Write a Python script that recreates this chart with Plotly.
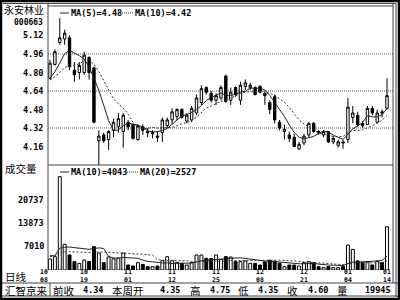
import plotly.graph_objects as go
import pandas as pd

# ---------------- data ----------------
dates = [
    "2010-10-08", "2010-10-11", "2010-10-12", "2010-10-13", "2010-10-14", "2010-10-15",
    "2010-10-18", "2010-10-19", "2010-10-20", "2010-10-21", "2010-10-22",
    "2010-10-25", "2010-10-26", "2010-10-27", "2010-10-28", "2010-10-29",
    "2010-11-01", "2010-11-02", "2010-11-03", "2010-11-04", "2010-11-05",
    "2010-11-08", "2010-11-09", "2010-11-10", "2010-11-11", "2010-11-12",
    "2010-11-15", "2010-11-16", "2010-11-17", "2010-11-18", "2010-11-19",
    "2010-11-22", "2010-11-23", "2010-11-24", "2010-11-25", "2010-11-26",
    "2010-11-29", "2010-11-30",
    "2010-12-01", "2010-12-02", "2010-12-03",
    "2010-12-06", "2010-12-07", "2010-12-08", "2010-12-09", "2010-12-10",
    "2010-12-13", "2010-12-14", "2010-12-15", "2010-12-16", "2010-12-17",
    "2010-12-20", "2010-12-21", "2010-12-22", "2010-12-23", "2010-12-24",
    "2010-12-27", "2010-12-28", "2010-12-29", "2010-12-30", "2010-12-31",
    "2011-01-04", "2011-01-05", "2011-01-06", "2011-01-07",
    "2011-01-10", "2011-01-11", "2011-01-12", "2011-01-13", "2011-01-14",
]

open_ = [4.75, 4.87, 5.06, 5.09, 5.10, 4.82, 4.80, 4.80, 4.93, 4.84,
         4.21, 4.26, 4.22, 4.30, 4.33, 4.29, 4.37, 4.35, 4.22, 4.33,
         4.29, 4.27, 4.25, 4.28, 4.34, 4.39, 4.42, 4.48, 4.38, 4.39,
         4.45, 4.54, 4.67, 4.62, 4.56, 4.58, 4.77, 4.56, 4.67, 4.56,
         4.68, 4.67, 4.67, 4.68, 4.62, 4.54, 4.59, 4.37, 4.29, 4.26,
         4.24, 4.14, 4.19, 4.26, 4.36, 4.29, 4.26, 4.29, 4.20, 4.17,
         4.20, 4.22, 4.41, 4.43, 4.36, 4.35, 4.49, 4.37, 4.46, 4.49]
high = [4.91, 5.00, 5.27, 5.17, 5.12, 4.89, 4.89, 4.98, 4.94, 4.85,
        4.30, 4.28, 4.30, 4.40, 4.45, 4.45, 4.39, 4.36, 4.35, 4.35,
        4.32, 4.30, 4.29, 4.41, 4.41, 4.49, 4.49, 4.49, 4.45, 4.51,
        4.61, 4.69, 4.68, 4.64, 4.62, 4.69, 4.78, 4.67, 4.68, 4.72,
        4.74, 4.71, 4.68, 4.69, 4.63, 4.56, 4.61, 4.39, 4.35, 4.29,
        4.27, 4.20, 4.27, 4.37, 4.37, 4.30, 4.30, 4.29, 4.25, 4.22,
        4.22, 4.58, 4.51, 4.46, 4.38, 4.51, 4.51, 4.48, 4.48, 4.75]
low = [4.74, 4.86, 5.04, 5.04, 4.82, 4.72, 4.74, 4.78, 4.74, 4.36,
       4.00, 4.19, 4.13, 4.24, 4.28, 4.15, 4.30, 4.22, 4.21, 4.26,
       4.24, 4.23, 4.20, 4.20, 4.32, 4.35, 4.39, 4.40, 4.36, 4.37,
       4.43, 4.52, 4.61, 4.54, 4.52, 4.56, 4.54, 4.52, 4.59, 4.52,
       4.65, 4.65, 4.60, 4.62, 4.52, 4.44, 4.36, 4.30, 4.22, 4.20,
       4.16, 4.13, 4.17, 4.24, 4.28, 4.26, 4.24, 4.19, 4.18, 4.15,
       4.14, 4.19, 4.36, 4.33, 4.32, 4.35, 4.43, 4.36, 4.41, 4.48]
close = [4.88, 4.98, 5.10, 5.14, 4.85, 4.78, 4.86, 4.95, 4.80, 4.37,
         4.25, 4.21, 4.29, 4.37, 4.40, 4.43, 4.33, 4.23, 4.34, 4.30,
         4.28, 4.28, 4.24, 4.39, 4.39, 4.46, 4.48, 4.41, 4.43, 4.49,
         4.58, 4.66, 4.63, 4.56, 4.60, 4.67, 4.55, 4.63, 4.61, 4.69,
         4.71, 4.69, 4.61, 4.63, 4.60, 4.48, 4.39, 4.32, 4.31, 4.23,
         4.16, 4.18, 4.25, 4.36, 4.29, 4.28, 4.29, 4.20, 4.23, 4.20,
         4.19, 4.50, 4.45, 4.35, 4.34, 4.49, 4.45, 4.45, 4.45, 4.60]
volume = [3260, 3950, 27640, 7610, 4440, 2470, 1970, 2960, 2500, 6910,
          5030, 2170, 3850, 3300, 3550, 5030, 1480, 1180, 2170, 1680,
          990, 990, 1180, 2760, 3950, 2760, 2270, 1970, 1480, 2170,
          4440, 4440, 3460, 3400, 4440, 3160, 3950, 3850, 2470, 2470,
          2700, 1970, 1970, 1480, 2400, 2900, 2600, 2000, 990, 1480,
          1480, 1180, 2170, 2470, 2170, 990, 690, 990, 690, 690,
          1000, 7400, 6100, 2700, 2170, 2500, 1480, 2470, 2170, 12800]

# sessions before the window (needed for the moving averages at the left edge)
pre_close = [4.70, 4.73, 4.71, 4.74, 4.72, 4.70, 4.72, 4.73, 4.72]
pre_volume = [3500, 3800, 4200, 3600, 3900, 4100, 3700, 3400, 3600, 3800,
              4500, 5200, 4800, 3900, 4200, 4600, 4100, 3800, 4400]

# values printed in the legends of the reference
price_legend = [("MA(5)", "4.48"), ("MA(10)", "4.42")]
vol_legend = [("MA(10)", "4043"), ("MA(20)", "2527")]

price_ticks = [5.12, 4.96, 4.80, 4.64, 4.48, 4.32, 4.16]
price_grid = [4.96, 4.64, 4.32]
vol_ticks = [20737, 13873, 7010]
date_labels = ["2010-10-08", "2010-10-19", "2010-11-01", "2010-11-12", "2010-11-25",
               "2010-12-08", "2010-12-21", "2011-01-04", "2011-01-14"]

stock_name = "永安林业"
stock_code = "000663"
status_items = [("前收", "4.34"), ("本周开", "4.35"), ("高", "4.75"),
                ("低", "4.35"), ("收", "4.60"), ("量", "19945")]

# ---------------- derived ----------------
cs = pd.Series(pre_close + close)
ma5 = cs.rolling(5).mean().iloc[len(pre_close):].tolist()
ma10 = cs.rolling(10).mean().iloc[len(pre_close):].tolist()
vs = pd.Series(pre_volume + volume)
vma10 = vs.rolling(10).mean().iloc[len(pre_volume):].tolist()
vma20 = vs.rolling(20).mean().iloc[len(pre_volume):].tolist()

W, H = 400, 300
def px(x):
    return x / W
def py(y):
    return 1 - y / H

MONO = "DejaVu Sans Mono"
CJK = "Noto Sans CJK SC"

fig = go.Figure()

fig.add_trace(go.Candlestick(
    x=dates, open=open_, high=high, low=low, close=close,
    increasing=dict(line=dict(color="black", width=1), fillcolor="white"),
    decreasing=dict(line=dict(color="black", width=1), fillcolor="black"),
    whiskerwidth=0, xaxis="x", yaxis="y", showlegend=False,
))
fig.add_trace(go.Scatter(x=dates, y=ma5, mode="lines",
                         line=dict(color="#222", width=1), xaxis="x", yaxis="y",
                         showlegend=False))
fig.add_trace(go.Scatter(x=dates, y=ma10, mode="lines",
                         line=dict(color="#333", width=1, dash="2px,2px"),
                         xaxis="x", yaxis="y", showlegend=False))

vcolors = ["white" if c >= o else "black" for o, c in zip(open_, close)]
fig.add_trace(go.Bar(x=dates, y=volume, marker=dict(color=vcolors, line=dict(color="black", width=1)),
                     width=0.6, xaxis="x", yaxis="y2", showlegend=False))
fig.add_trace(go.Scatter(x=dates, y=vma10, mode="lines",
                         line=dict(color="#222", width=1), xaxis="x", yaxis="y2",
                         showlegend=False))
fig.add_trace(go.Scatter(x=dates, y=vma20, mode="lines",
                         line=dict(color="#333", width=1, dash="2px,2px"),
                         xaxis="x", yaxis="y2", showlegend=False))

# axis geometry (pixel layout of the reference)
x_left, x_right = 48, 393
price_top, price_bot = 7, 165
vol_top, vol_bot = 165, 270
idx0_px, step_px = 50, 4.884
xr = [(x_left - idx0_px) / step_px, (x_right - idx0_px) / step_px]
pp = 115.625  # px per price unit
p_bot = 4.96 - (price_bot - 54) / pp
p_top = 4.96 + (54 - price_top) / pp
vscale = 70 / 20737.0
v_top = (vol_bot - vol_top) / vscale

fig.update_layout(
    width=W, height=H, margin=dict(l=0, r=0, t=0, b=0),
    paper_bgcolor="white", plot_bgcolor="white",
    xaxis=dict(domain=[px(x_left), px(x_right)], type="category", range=xr,
               showticklabels=False, showgrid=False, zeroline=False,
               rangeslider=dict(visible=False), anchor="y2", fixedrange=True),
    yaxis=dict(domain=[py(price_bot), py(price_top)], range=[p_bot, p_top],
               showticklabels=False, showgrid=False, zeroline=False, anchor="x"),
    yaxis2=dict(domain=[py(vol_bot), py(vol_top)], range=[0, v_top],
                showticklabels=False, showgrid=False, zeroline=False, anchor="x"),
    bargap=0.4,
)

shapes = []
def line(x0, y0, x1, y1, color="black", width=1, dash=None):
    d = dict(type="line", xref="paper", yref="paper",
             x0=px(x0), y0=py(y0), x1=px(x1), y1=py(y1),
             line=dict(color=color, width=width))
    if dash:
        d["line"]["dash"] = dash
    shapes.append(d)

# price grid lines (dotted)
for g in price_grid:
    shapes.append(dict(type="line", xref="paper", yref="y", x0=px(x_left), x1=px(x_right),
                       y0=g, y1=g, line=dict(color="#555", width=1, dash="1px,1px"), layer="below"))

# frames
line(48, 4, 48, 270, "#444")
line(x_right, 4, x_right, 283, "#444")
line(396, 3, 396, 297, "#444")
line(3, 3.5, 396, 3.5, "#444")
line(48, 6, 393, 6, "#444")
line(48, 165, 393, 165, "#444")
line(2, 283, 398, 283, "#444")
line(2, 296, 398, 296, "#444")
line(50, 283, 50, 296, "#444")
shapes.append(dict(type="rect", xref="paper", yref="paper", x0=px(1), y0=py(299), x1=px(399), y1=py(1),
                   line=dict(color="black", width=2.5)))

# legend line symbols
line(60, 13, 69, 13, "#222")
line(122, 13, 133, 13, "#333", dash="1px,1px")
line(60, 172, 69, 172, "#222")
line(127, 172, 138, 172, "#333", dash="1px,1px")

fig.update_layout(shapes=shapes)

ann = []
def text(x, y, s, size=8.5, anchor="left", font=MONO, bold=True, color="black"):
    ann.append(dict(xref="paper", yref="paper", x=px(x), y=py(y), text=s, showarrow=False,
                    xanchor=anchor, yanchor="middle", borderpad=0,
                    font=dict(family=font, size=size, color=color, weight="bold" if bold else "normal")))

text(3, 9, stock_name, size=10, font=CJK, bold=False)
text(44, 22, stock_code, size=8, anchor="right")
text(70, 13, "%s=%s" % price_legend[0], size=8.5)
text(134, 13, "%s=%s" % price_legend[1], size=8.5)
text(70, 172, "%s=%s" % vol_legend[0], size=8.5)
text(139, 172, "%s=%s" % vol_legend[1], size=8.5)
text(4, 168, "成交量", size=10.5, font=CJK, bold=False)
text(4, 276, "日线", size=10.5, font=CJK, bold=False)

for t in price_ticks:
    ann.append(dict(xref="paper", yref="y", x=px(45), y=t, text="%.2f" % t, showarrow=False,
                    xanchor="right", yanchor="middle",
                    font=dict(family=MONO, size=8.5, color="black", weight="bold")))
for t in vol_ticks:
    ann.append(dict(xref="paper", yref="y2", x=px(46), y=t, text=str(t), showarrow=False,
                    xanchor="right", yanchor="middle",
                    font=dict(family=MONO, size=8.5, color="black", weight="bold")))

for i, d in enumerate(date_labels):
    mm, dd = d[5:7], d[8:10]
    shift = -6 if i == 0 else 0
    ann.append(dict(xref="x", yref="paper", x=d, y=py(276.3), text=mm + "<br>" + dd,
                    showarrow=False, xanchor="center", yanchor="middle", xshift=shift,
                    font=dict(family=MONO, size=6.5, color="black", weight="bold")))

# status bar
text(4, 290, "汇智京来", size=10.5, font=CJK, bold=False)
label_x = [52, 111, 189, 237, 286, 336]
value_r = [104, 181, 231, 279, 329, 392]
for (lab, val), lx, vr in zip(status_items, label_x, value_r):
    text(lx, 290, lab, size=10.5, font=CJK, bold=False)
    text(vr, 290, val, size=8.5, anchor="right")

fig.update_layout(annotations=ann)
fig.write_html("out.html")
